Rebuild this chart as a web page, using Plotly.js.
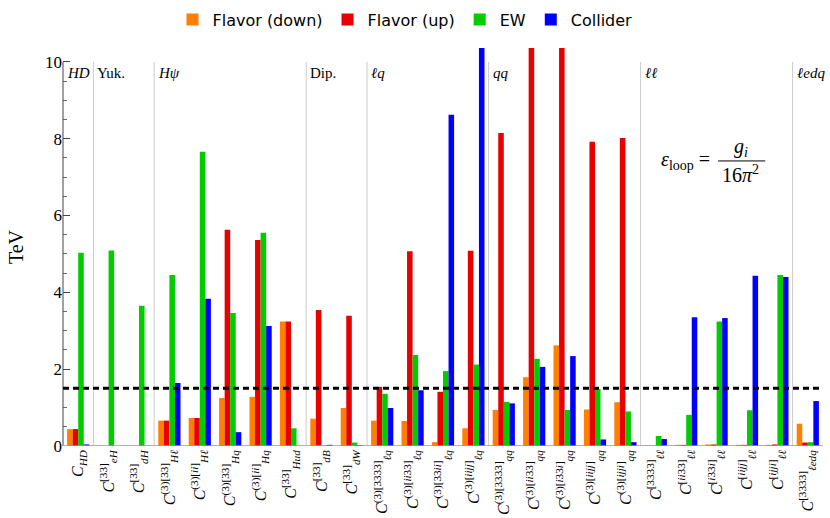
<!DOCTYPE html>
<html>
<head>
<meta charset="utf-8">
<script src="https://cdn.plot.ly/plotly-3.0.1.min.js"></script>
<style>
  body { margin: 0; background: #fff; }
  #chart { width: 830px; height: 518px; }
</style>
</head>
<body>
<div id="chart"></div>
<script>
// operator labels (x axis)
let opLabels = [
  "<i>C</i><sub><i>HD</i></sub>",
  "<i>C</i><sup>[33]</sup><sub><i>eH</i></sub>",
  "<i>C</i><sup>[33]</sup><sub><i>dH</i></sub>",
  "<i>C</i><sup>(3)[33]</sup><sub><i>Hℓ</i></sub>",
  "<i>C</i><sup>(3)[<i>ii</i>]</sup><sub><i>Hℓ</i></sub>",
  "<i>C</i><sup>(3)[33]</sup><sub><i>Hq</i></sub>",
  "<i>C</i><sup>(3)[<i>ii</i>]</sup><sub><i>Hq</i></sub>",
  "<i>C</i><sup>[33]</sup><sub><i>Hud</i></sub>",
  "<i>C</i><sup>[33]</sup><sub><i>dB</i></sub>",
  "<i>C</i><sup>[33]</sup><sub><i>dW</i></sub>",
  "<i>C</i><sup>(3)[3333]</sup><sub><i>ℓq</i></sub>",
  "<i>C</i><sup>(3)[<i>ii</i>33]</sup><sub><i>ℓq</i></sub>",
  "<i>C</i><sup>(3)[33<i>ii</i>]</sup><sub><i>ℓq</i></sub>",
  "<i>C</i><sup>(3)[<i>iijj</i>]</sup><sub><i>ℓq</i></sub>",
  "<i>C</i><sup>(3)[3333]</sup><sub><i>qq</i></sub>",
  "<i>C</i><sup>(3)[<i>ii</i>33]</sup><sub><i>qq</i></sub>",
  "<i>C</i><sup>(3)[<i>i</i>33<i>i</i>]</sup><sub><i>qq</i></sub>",
  "<i>C</i><sup>(3)[<i>iijj</i>]</sup><sub><i>qq</i></sub>",
  "<i>C</i><sup>(3)[<i>ijji</i>]</sup><sub><i>qq</i></sub>",
  "<i>C</i><sup>[3333]</sup><sub><i>ℓℓ</i></sub>",
  "<i>C</i><sup>[<i>ii</i>33]</sup><sub><i>ℓℓ</i></sub>",
  "<i>C</i><sup>[<i>i</i>33<i>i</i>]</sup><sub><i>ℓℓ</i></sub>",
  "<i>C</i><sup>[<i>iijj</i>]</sup><sub><i>ℓℓ</i></sub>",
  "<i>C</i><sup>[<i>ijji</i>]</sup><sub><i>ℓℓ</i></sub>",
  "<i>C</i><sup>[3333]</sup><sub><i>ℓedq</i></sub>"
];

// bounds in TeV (bars above 10 run off the frame)
let flavorDown = [0.44, 0, 0, 0.66, 0.73, 1.25, 1.28, 3.24, 0.71, 0.99,
                  0.66, 0.65, 0.10, 0.46, 0.94, 1.79, 2.62, 0.95, 1.14,
                  0.01, 0.03, 0.04, 0.03, 0.03, 0.58];
let flavorUp   = [0.44, 0, 0, 0.66, 0.73, 5.63, 5.36, 3.24, 3.54, 3.39,
                  1.54, 5.07, 1.41, 5.08, 8.15, 11, 11, 7.92, 8.02,
                  0.01, 0.03, 0.04, 0.03, 0.04, 0.09];
let ew         = [5.03, 5.09, 3.65, 4.45, 7.66, 3.46, 5.55, 0.46, 0.01, 0.09,
                  1.36, 2.37, 1.95, 2.12, 1.15, 2.27, 0.94, 1.48, 0.90,
                  0.26, 0.81, 3.24, 0.93, 4.45, 0.10];
let collider   = [0.04, 0, 0, 1.64, 3.83, 0.36, 3.125, 0, 0.03, 0.02,
                  0.99, 1.45, 8.62, 11, 1.11, 2.06, 2.34, 0.17, 0.10,
                  0.18, 3.35, 3.33, 4.43, 4.40, 1.17];

let groupNames = ["<i>HD</i>", "Yuk.", "<i>Hψ</i>", "Dip.", "<i>ℓq</i>", "<i>qq</i>", "<i>ℓℓ</i>", "<i>ℓedq</i>"];
let groupStart = [0, 1, 3, 8, 10, 14, 19, 24];
let threshold = 1.5;

let idx = opLabels.map((_, i) => i);

function series(name, vals, color) {
  return {
    type: 'bar', name: name, x: idx, y: vals,
    marker: {color: color, line: {width: 0}},
    cliponaxis: true
  };
}

var data = [
  series('Flavor (down)', flavorDown, '#ff7f00'),
  series('Flavor (up)', flavorUp, '#e60000'),
  series('EW', ew, '#00cc00'),
  series('Collider', collider, '#0000ff')
];

var shapes = [];
var annotations = [];

// separators between operator classes
groupStart.slice(1).forEach(function (g) {
  shapes.push({type: 'line', xref: 'x', yref: 'y', x0: g - 0.5, x1: g - 0.5, y0: 0, y1: 10,
               line: {color: '#cccccc', width: 1}});
});
groupStart.forEach(function (g, k) {
  annotations.push({xref: 'x', yref: 'y', x: g - 0.5, y: 9.72, xanchor: 'left', yanchor: 'middle',
                    xshift: 2, text: groupNames[k], showarrow: false,
                    font: {family: 'Liberation Serif', size: 15, color: '#000'}});
});

// left frame line and bottom axis
shapes.push({type: 'line', xref: 'paper', yref: 'y', x0: 0, x1: 0, y0: 0, y1: 10,
             line: {color: '#444', width: 1}});
shapes.push({type: 'line', xref: 'paper', yref: 'y', x0: 0, x1: 1, y0: 0, y1: 0,
             line: {color: '#999', width: 1.5}});

// dashed threshold
shapes.push({type: 'line', xref: 'x', yref: 'y', x0: -0.5, x1: 24.4, y0: threshold, y1: threshold,
             line: {color: '#000', width: 3, dash: '6px,4px'}});

// formula epsilon_loop = g_i / 16 pi^2
annotations.push({xref: 'x', yref: 'y', x: 20.85, y: 7.42, xanchor: 'right', yanchor: 'middle',
                  text: '<i>ε</i><sub>loop</sub> =', showarrow: false,
                  font: {family: 'Liberation Serif', size: 20, color: '#000'}});
annotations.push({xref: 'x', yref: 'y', x: 21.8, y: 7.78, xanchor: 'center', yanchor: 'middle',
                  text: '<i>g<sub>i</sub></i>', showarrow: false,
                  font: {family: 'Liberation Serif', size: 20, color: '#000'}});
annotations.push({xref: 'x', yref: 'y', x: 21.8, y: 7.08, xanchor: 'center', yanchor: 'middle',
                  text: '16<i>π</i><sup>2</sup>', showarrow: false,
                  font: {family: 'Liberation Serif', size: 20, color: '#000'}});
shapes.push({type: 'line', xref: 'x', yref: 'y', x0: 21.05, x1: 22.6, y0: 7.42, y1: 7.42,
             line: {color: '#000', width: 1}});

var layout = {
  width: 830, height: 518,
  margin: {l: 63, r: 7, t: 48, b: 72},
  paper_bgcolor: '#fff', plot_bgcolor: '#fff',
  barmode: 'group', bargap: 0.27, bargroupgap: 0,
  showlegend: true,
  legend: {orientation: 'h', x: 0.45, xanchor: 'center', y: 0.995, yanchor: 'top', yref: 'container',
           font: {family: 'DejaVu Sans', size: 16, color: '#000'}, itemwidth: 30, tracegroupgap: 0},
  xaxis: {
    range: [-0.5, 24.5], tickmode: 'array', tickvals: idx, ticktext: opLabels,
    tickangle: -90, showgrid: false, zeroline: false, showline: false, ticks: '',
    tickfont: {family: 'Liberation Serif', size: 16, color: '#000'}
  },
  yaxis: {
    range: [0, 10.36], tickvals: [0, 2, 4, 6, 8, 10], showgrid: false, zeroline: false, showline: false,
    ticks: 'inside', ticklen: 7, tickcolor: '#444', tickwidth: 1,
    minor: {tickvals: [0.5, 1, 1.5, 2.5, 3, 3.5, 4.5, 5, 5.5, 6.5, 7, 7.5, 8.5, 9, 9.5], ticks: 'inside', ticklen: 4, tickcolor: '#666'},
    tickfont: {family: 'Liberation Serif', size: 17, color: '#000'},
    title: {text: 'TeV', font: {family: 'Liberation Serif', size: 20, color: '#000'}, standoff: 16}
  },
  shapes: shapes,
  annotations: annotations
};

Plotly.newPlot('chart', data, layout, {displayModeBar: false, staticPlot: true});
</script>
</body>
</html>
